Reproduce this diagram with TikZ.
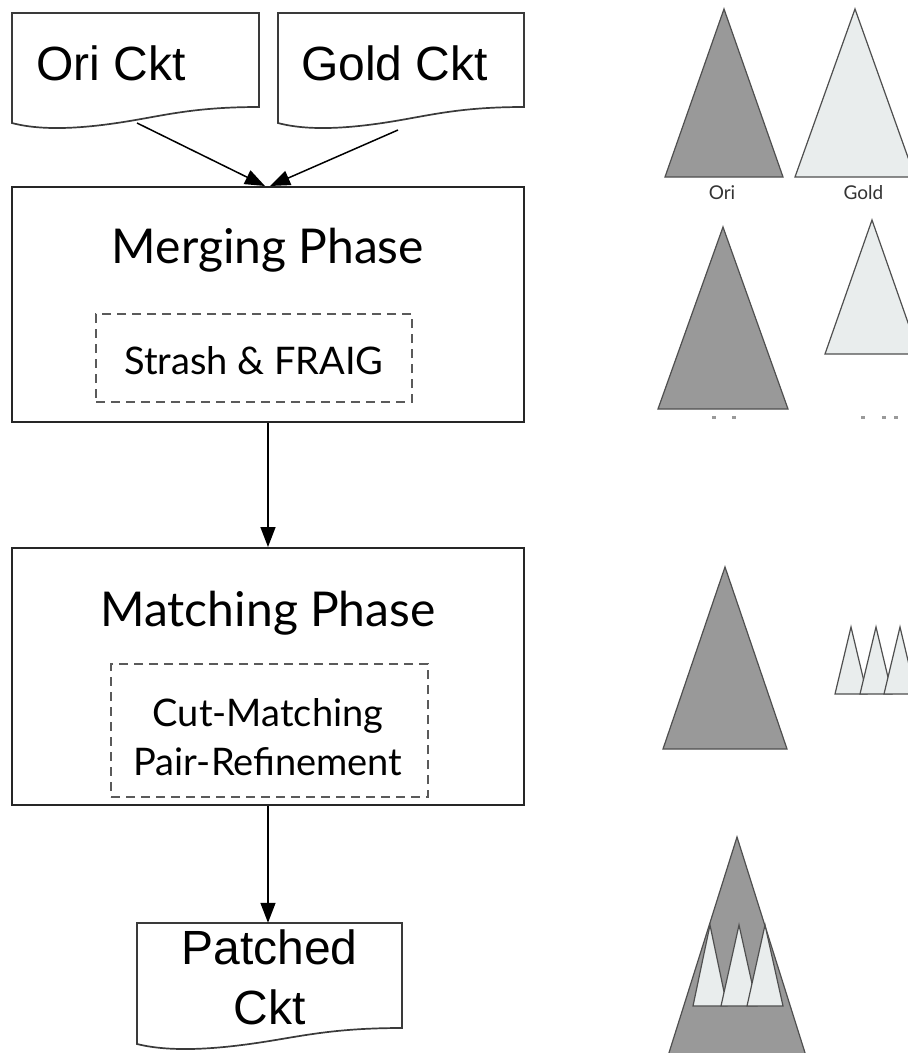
\documentclass[tikz,border=0pt]{standalone}
\usepackage{fontspec}
\setmainfont{Liberation Sans}
\newfontfamily\latofont{Lato}
\usetikzlibrary{arrows.meta,calc}

\definecolor{treedark}{HTML}{999999}
\definecolor{treelight}{HTML}{E9EDED}
\definecolor{treeedge}{HTML}{4F4F4F}
\definecolor{dashgray}{HTML}{5A5A5A}
\definecolor{boxline}{HTML}{262626}
\definecolor{docgray}{HTML}{3A3A3A}
\definecolor{dotgray}{HTML}{9A9A9A}
\definecolor{labelgray}{HTML}{333333}

% document shape: left, top, right, y of the lower right corner
\newcommand\docoutline[4]{%
  \draw[docline] (#3,#4) -- (#3,#2) -- (#1,#2) -- (#1,#4+16)
    .. controls ({#1+0.15*(#3-#1)},#4+26) and ({#1+0.36*(#3-#1)},#4+19) .. ({#1+0.5*(#3-#1)},#4+13)
    .. controls ({#1+0.64*(#3-#1)},#4+7) and ({#3-0.24*(#3-#1)},#4) .. cycle;}

% tree triangle: style, apex x, apex y, half width, base y
\newcommand\treetri[5]{%
  \filldraw[#1] (#2,#3) -- ({#2-#4},#5) -- ({#2+#4},#5) -- cycle;}

\begin{document}
\begin{tikzpicture}[x=1pt,y=-1pt,
  region/.style={rectangle,inner sep=0pt,draw=none},
  docline/.style={draw=docgray,line width=1.7pt,fill=white},
  phasebox/.style={rectangle,inner sep=0pt,draw=boxline,line width=2pt},
  dashbox/.style={rectangle,inner sep=0pt,draw=dashgray,line width=1.8pt,dash pattern=on 9pt off 6pt},
  doctext/.style={inner sep=0pt,font=\fontsize{48}{60}\selectfont},
  phasetext/.style={inner sep=0pt,font=\latofont\fontsize{48}{58}\selectfont},
  subtext/.style={inner sep=0pt,font=\latofont\fontsize{38}{49}\selectfont},
  labeltext/.style={inner sep=0pt,text=labelgray,font=\latofont\fontsize{19}{22}\selectfont},
  flow/.style={draw=black,line width=1.5pt,-{Triangle[length=20pt,width=15pt]}},
  darktree/.style={fill=treedark,draw=treeedge,line width=1.2pt,line join=miter},
  lighttree/.style={fill=treelight,draw=treeedge,line width=1.2pt,line join=miter}]
\useasboundingbox (0,0) rectangle (908,1053);
\fill[white] (0,0) rectangle (908,1053);
\clip (0,0) rectangle (908,1053);

% input and output circuits
\docoutline{12}{13}{259}{107}
\docoutline{278}{13}{524}{107}
\docoutline{137}{923}{402}{1028}
\node[region,minimum width=247pt,minimum height=94pt] (ori) at (135.5,60) {};
\node[region,minimum width=246pt,minimum height=94pt] (gold) at (401,60) {};
\node[region,minimum width=265pt,minimum height=105pt] (patched) at (269.5,975.5) {};
\node[doctext,anchor=base west] (oritext) at (36,80) {Ori Ckt};
\node[doctext,anchor=base west] (goldtext) at (301,80) {Gold Ckt};
\node[doctext,anchor=north,align=center] (patchedtext) at (269.5,930) {Patched\\Ckt};

% phases
\node[phasebox,minimum width=512pt,minimum height=235pt] (merge) at (268,304.5) {};
\node[dashbox,minimum width=316pt,minimum height=88pt] (strash) at (254,358) {};
\node[phasetext,anchor=base] (mergetext) at (268,263) {Merging Phase};
\node[subtext,anchor=base] (strashtext) at (254,374) {Strash \& FRAIG};

\node[phasebox,minimum width=512pt,minimum height=257pt] (match) at (268,676.5) {};
\node[dashbox,minimum width=317pt,minimum height=133pt] (cut) at (269.5,730.5) {};
\node[phasetext,anchor=base] (matchtext) at (268,626) {Matching Phase};
\node[subtext,anchor=north,align=center] (cuttext) at (268,698) {Cut-Matching\\Pair-Refinement};

% flow
\coordinate (oriout) at (137,123);
\coordinate (goldout) at (398,130);
\draw[flow] (oriout) -- ($(merge.north)+(-3,0)$);
\draw[flow] (goldout) -- ($(merge.north)+(2,0)$);
\draw[flow] (merge.south) -- (match.north);
\draw[flow] (match.south) -- (match.south |- patched.north);

% circuit trees: inputs
\treetri{darktree}{724}{9}{59}{177}
\treetri{lighttree}{855}{9}{60}{177}
\node[labeltext,anchor=base] (orilabel) at (722,199) {Ori};
\node[labeltext,anchor=base] (goldlabel) at (863.5,199) {Gold};

% after merging
\treetri{darktree}{723}{227}{65}{409}
\treetri{lighttree}{872}{220}{47}{354}
\foreach \dx in {714,734,863,884,896}
  \fill[dotgray] (\dx-2,416) rectangle (\dx+2,418.5);

% after matching
\treetri{darktree}{725}{567}{62}{749}
\treetri{lighttree}{851}{627}{16}{694}
\treetri{lighttree}{876}{627}{16}{694}
\treetri{lighttree}{900}{627}{16}{694}

% patched result
\treetri{darktree}{737}{837}{75}{1075}
\treetri{lighttree}{710}{925}{17}{1006}
\treetri{lighttree}{739}{925}{18}{1006}
\treetri{lighttree}{765}{925}{18}{1006}
\end{tikzpicture}
\end{document}
